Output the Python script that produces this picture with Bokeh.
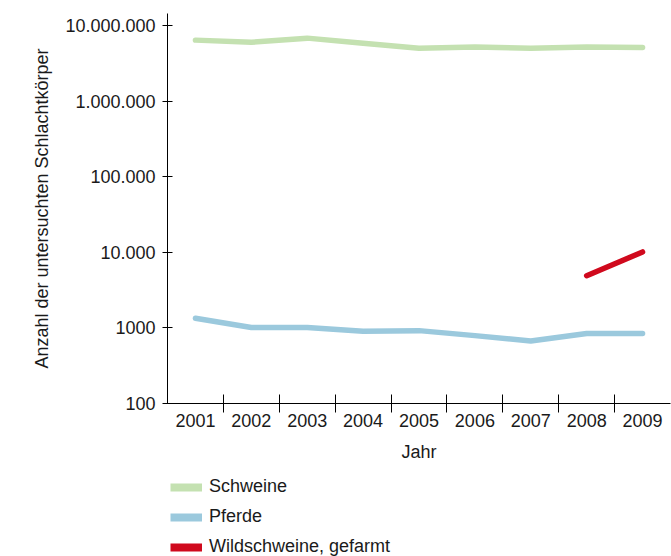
from bokeh.plotting import figure
from bokeh.layouts import column
from bokeh.models import Range1d, FixedTicker, Legend, LegendItem
from bokeh.embed import file_html
from bokeh.resources import INLINE

# ---- data ----
years = [2001, 2002, 2003, 2004, 2005, 2006, 2007, 2008, 2009]
schweine = [6400000, 6000000, 6800000, 5800000, 5000000, 5200000, 5000000, 5200000, 5100000]
pferde = [1340, 1010, 1010, 905, 920, 790, 670, 845, 845]
wild_years = [2008, 2009]
wildschweine = [4900, 10100]

y_ticks = [100, 1000, 10000, 100000, 1000000, 10000000]
y_tick_labels = ["100", "1000", "10.000", "100.000", "1.000.000", "10.000.000"]

series_names = ["Schweine", "Pferde", "Wildschweine, gefarmt"]
colors = ["#c4e1b1", "#9bc9dd", "#d0091d"]

FONT = "Liberation Sans"
FS = "18px"
TXT = "#1a1a1a"

p = figure(width=671, height=466, output_backend="svg", toolbar_location=None,
           y_axis_type="log",
           x_range=Range1d(years[0] - 0.5, years[-1] + 0.5),
           y_range=Range1d(100, 1.44e7),
           min_border_left=167, min_border_right=1, min_border_top=13,
           min_border_bottom=63)
p.outline_line_color = None
p.grid.grid_line_color = None
p.background_fill_color = "white"
p.border_fill_color = "white"

# x axis: labels at centers, tick marks between categories
xa = p.xaxis[0]
xa.ticker = FixedTicker(ticks=years, minor_ticks=[y + 0.5 for y in years[:-1]])
xa.major_tick_out = 0
xa.major_tick_in = 0
xa.minor_tick_line_color = "black"
xa.minor_tick_in = 9
xa.minor_tick_out = 9
xa.major_label_standoff = 1
xa.axis_label = "Jahr"
xa.axis_label_standoff = 12
xa.axis_label_text_font_style = "normal"

ya = p.yaxis[0]
ya.ticker = FixedTicker(ticks=y_ticks, minor_ticks=[])
ya.major_label_overrides = {t: l for t, l in zip(y_ticks, y_tick_labels)}
ya.major_tick_in = 5
ya.major_tick_out = 5
ya.minor_tick_line_color = None
ya.major_label_standoff = 7
ya.axis_label = "Anzahl der untersuchten Schlachtkörper"
ya.axis_label_standoff = 10
ya.axis_label_text_font_style = "normal"

for ax in (xa, ya):
    ax.axis_line_color = "black"
    ax.major_label_text_font = FONT
    ax.major_label_text_font_size = FS
    ax.major_label_text_color = TXT
    ax.axis_label_text_font = FONT
    ax.axis_label_text_font_size = FS
    ax.axis_label_text_color = TXT
ya.major_tick_line_color = "black"
xa.major_tick_line_color = None

p.line(years, schweine, line_color=colors[0], line_width=5.5, line_cap="round", line_join="round")
p.line(years, pferde, line_color=colors[1], line_width=5.5, line_cap="round", line_join="round")
p.line(wild_years, wildschweine, line_color=colors[2], line_width=5.5, line_cap="round", line_join="round")

# legend in its own strip below the chart
lg = figure(width=671, height=90, output_backend="svg", toolbar_location=None,
            x_range=Range1d(0, 1), y_range=Range1d(0, 1),
            min_border=0, min_border_left=0, min_border_right=0,
            min_border_top=0, min_border_bottom=0)
lg.axis.visible = False
lg.grid.grid_line_color = None
lg.outline_line_color = None
lg.background_fill_color = "white"
lg.border_fill_color = "white"

nan = float("nan")
items = []
for name, c in zip(series_names, colors):
    r = lg.line(x=[nan, nan], y=[nan, nan], line_color=c, line_width=8)
    items.append(LegendItem(label=name, renderers=[r]))

legend = Legend(items=items, location=(3, -1), orientation="vertical",
                border_line_color=None, background_fill_alpha=0,
                padding=0, margin=0, spacing=9,
                glyph_width=32, glyph_height=20, label_height=20,
                label_standoff=7,
                label_text_font=FONT, label_text_font_size=FS,
                label_text_color=TXT)
lg.add_layout(legend, "center")

open("out.html", "w").write(file_html(column(p, lg, spacing=0), INLINE))
